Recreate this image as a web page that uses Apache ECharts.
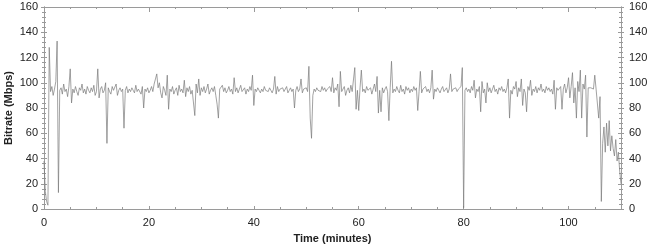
<!DOCTYPE html>
<html>
<head>
<meta charset="utf-8">
<script src="https://cdn.jsdelivr.net/npm/echarts@6/dist/echarts.min.js"></script>
<style>
html,body{margin:0;padding:0;background:#fff;}
#c{width:650px;height:246px;}
</style>
</head>
<body>
<div id="c"></div>
<script>
// Sample spacing (minutes) between successive bitrate readings
const timeStepMin = 0.25;
// Bitrate readings (Mbps), one per step
const bitrate = [
  38, 14, 6, 3, 128, 93, 97, 90, 95, 101, 133, 13, 94, 96, 91, 99, 93, 95, 89, 97,
  111, 84, 95, 92, 97, 93, 90, 96, 94, 99, 92, 95, 91, 97, 94, 92, 96, 93, 98, 90,
  93, 111, 88, 95, 97, 92, 94, 100, 52, 96, 93, 91, 97, 94, 95, 99, 90, 94, 96, 93,
  95, 64, 94, 97, 92, 95, 93, 96, 94, 92, 98, 93, 95, 94, 91, 97, 80, 95, 93, 96,
  92, 94, 97, 93, 99, 103, 107, 96, 100, 92, 88, 97, 94, 90, 106, 79, 95, 93, 97, 91,
  94, 96, 90, 98, 93, 95, 92, 102, 89, 96, 93, 97, 91, 94, 95, 74, 99, 92, 103, 90,
  96, 93, 97, 92, 95, 99, 91, 94, 96, 93, 97, 90, 83, 72, 95, 94, 98, 93, 96, 92,
  94, 97, 93, 95, 91, 104, 93, 96, 92, 95, 98, 93, 94, 96, 91, 95, 93, 97, 94, 106,
  82, 95, 93, 96, 94, 92, 95, 93, 97, 94, 95, 93, 96, 94, 92, 95, 105, 91, 97, 93,
  95, 94, 96, 93, 95, 97, 92, 94, 96, 93, 95, 80, 94, 97, 93, 95, 103, 92, 95, 94,
  96, 93, 113, 72, 56, 90, 95, 93, 96, 94, 95, 93, 97, 94, 96, 93, 95, 94, 97, 93,
  104, 92, 96, 94, 99, 81, 109, 93, 95, 97, 90, 94, 96, 92, 98, 93, 94, 112, 79, 94,
  78, 96, 110, 93, 95, 92, 97, 94, 93, 96, 91, 95, 99, 93, 105, 76, 94, 77, 96, 92,
  95, 97, 93, 70, 96, 117, 92, 95, 93, 97, 94, 92, 98, 93, 95, 91, 97, 94, 96, 92,
  95, 93, 97, 94, 96, 78, 93, 109, 92, 95, 94, 97, 93, 95, 92, 96, 110, 87, 95, 93,
  96, 94, 92, 95, 97, 93, 94, 96, 92, 95, 107, 93, 95, 94, 96, 93, 95, 94, 97, 112,
  1, 94, 96, 93, 95, 92, 97, 94, 102, 88, 95, 93, 97, 77, 101, 92, 95, 84, 100, 93,
  96, 92, 95, 98, 93, 95, 91, 96, 94, 97, 93, 95, 92, 96, 103, 72, 94, 91, 97, 95,
  101, 89, 96, 93, 103, 82, 95, 92, 77, 97, 94, 102, 90, 95, 93, 97, 92, 96, 94, 99,
  93, 95, 92, 97, 94, 96, 93, 95, 91, 102, 79, 96, 94, 93, 97, 79, 95, 99, 92, 96,
  104, 88, 97, 108, 84, 96, 72, 101, 93, 110, 72, 99, 95, 106, 57, 96, 95, 96, 97, 95,
  106, 95, 96, 72, 89, 6, 52, 65, 45, 68, 50, 70, 46, 58, 48, 42, 55, 38, 45, 30,
  20
];
// Axis ranges and tick spacing
const xRange = [0, 110];
const xTickStep = 20;
const yRange = [0, 160];
const yTickStep = 20;
const xTitle = 'Time (minutes)';
const yTitle = 'Bitrate (Mbps)';

const seriesData = bitrate.map((v, i) => [i * timeStepMin, v]);

const FONT = '"Liberation Sans", Arial, sans-serif';
const axisColor = '#9a9a9a';
const textColor = '#222';

function yAx(pos, showLabels, inside) {
  return {
    type: 'value', position: pos, min: yRange[0], max: yRange[1], interval: yTickStep,
    axisLine: { show: true, lineStyle: { color: axisColor, width: 1 } },
    axisTick: { show: true, inside: inside, length: 3, lineStyle: { color: axisColor } },
    minorTick: { show: true, splitNumber: 5, length: 2, lineStyle: { color: axisColor } },
    splitLine: { show: false },
    axisLabel: { show: showLabels, color: textColor, fontFamily: FONT, fontSize: 11, margin: pos === 'left' ? 6 : 8 },
  };
}

const chart = echarts.init(document.getElementById('c'), null, { renderer: 'canvas' });
chart.setOption({
  animation: false,
  backgroundColor: '#fff',
  grid: { left: 44, right: 29, top: 7, bottom: 37, containLabel: false, outerBoundsMode: 'none' },
  xAxis: [
    {
      type: 'value', position: 'bottom', min: xRange[0], max: xRange[1], interval: xTickStep,
      axisLine: { show: true, onZero: false, lineStyle: { color: axisColor } },
      axisTick: { show: true, inside: true, length: 3, lineStyle: { color: axisColor } },
      minorTick: { show: true, splitNumber: 4, length: 2, lineStyle: { color: axisColor } },
      splitLine: { show: false },
      axisLabel: { color: textColor, fontFamily: FONT, fontSize: 11, margin: 8,
        formatter: v => (v % xTickStep === 0 ? String(v) : '') },
      name: xTitle, nameLocation: 'middle', nameGap: 24, nameMoveOverlap: false,
      nameTextStyle: { color: textColor, fontFamily: FONT, fontSize: 11, fontWeight: 'bold' },
    },
    {
      type: 'value', position: 'top', min: xRange[0], max: xRange[1], interval: xTickStep,
      axisLine: { show: true, onZero: false, lineStyle: { color: axisColor } },
      axisTick: { show: true, inside: true, length: 5, lineStyle: { color: axisColor } },
      minorTick: { show: true, splitNumber: 4, length: 2, lineStyle: { color: axisColor } },
      splitLine: { show: false },
      axisLabel: { show: false },
    },
  ],
  yAxis: [
    Object.assign(yAx('left', true, false), {
      name: yTitle, nameLocation: 'middle', nameGap: 30, nameRotate: 90, nameMoveOverlap: false,
      nameTextStyle: { color: textColor, fontFamily: FONT, fontSize: 11, fontWeight: 'bold' },
    }),
    yAx('left', false, true),
    yAx('right', true, false),
    yAx('right', false, true),
  ],
  series: [{
    type: 'line', xAxisIndex: 0, yAxisIndex: 0, data: seriesData,
    showSymbol: false, symbol: 'none', smooth: false,
    lineStyle: { color: '#7a7a7a', width: 0.7 },
  }],
});
</script>
</body>
</html>
